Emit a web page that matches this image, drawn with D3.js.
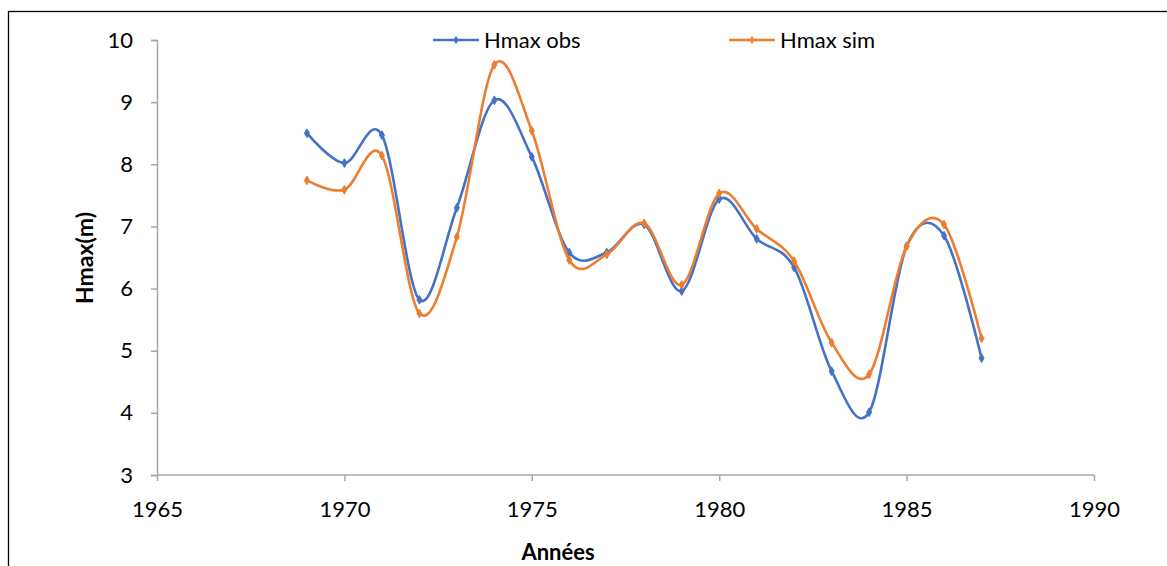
<!DOCTYPE html>
<html>
<head>
<meta charset="utf-8">
<script src="https://cdn.jsdelivr.net/npm/d3@7"></script>
<style>
  body { margin: 0; background: #fff; }
  svg { display: block; font-family: Lato, "Open Sans", sans-serif; }
</style>
</head>
<body>
<svg id="chart" width="1167" height="566"></svg>
<script>
// data
var years = [1969, 1970, 1971, 1972, 1973, 1974, 1975, 1976, 1977, 1978,
             1979, 1980, 1981, 1982, 1983, 1984, 1985, 1986, 1987]
var hmaxObs = [8.50, 8.02, 8.47, 5.82, 7.30, 9.03, 8.12, 6.58, 6.58, 7.03,
               5.96, 7.44, 6.80, 6.34, 4.67, 4.01, 6.68, 6.85, 4.88]
var hmaxSim = [7.74, 7.59, 8.14, 5.60, 6.83, 9.60, 8.54, 6.46, 6.55, 7.05,
               6.06, 7.53, 6.96, 6.44, 5.13, 4.62, 6.68, 7.03, 5.20]
var xTicks = [1965, 1970, 1975, 1980, 1985, 1990]
var yTicks = [3, 4, 5, 6, 7, 8, 9, 10]
var seriesNames = ["Hmax obs", "Hmax sim"]
var seriesColors = ["#4472C4", "#ED7D31"]

var dimensions = {
  width: 1167,
  height: 566,
  margin: { top: 40, bottom: 91, left: 157, right: 73 }
}
dimensions.boundedWidth = dimensions.width - dimensions.margin.left - dimensions.margin.right
dimensions.boundedHeight = dimensions.height - dimensions.margin.top - dimensions.margin.bottom

var svg = d3.select("#chart")

// outer frame of the chart area
svg.append("rect")
  .attr("x", 8.5).attr("y", 11.5)
  .attr("width", 1200).attr("height", 600)
  .attr("fill", "none").attr("stroke", "#000").attr("stroke-width", 1.3)

var bounds = svg.append("g")
  .attr("transform", "translate(" + dimensions.margin.left + "," + dimensions.margin.top + ")")

var xScale = d3.scaleLinear()
  .domain([1965, 1990])
  .range([0, dimensions.boundedWidth])

var yScale = d3.scaleLinear()
  .domain([3, 10])
  .range([dimensions.boundedHeight, 0])

// axes
var yAxis = bounds.append("g")
  .call(d3.axisLeft(yScale).tickValues(yTicks).tickSize(6).tickPadding(18).tickFormat(d3.format("d")))
var xAxis = bounds.append("g")
  .attr("transform", "translate(0," + dimensions.boundedHeight + ")")
  .call(d3.axisBottom(xScale).tickValues(xTicks).tickSize(6).tickPadding(20).tickFormat(d3.format("d")))

;[xAxis, yAxis].forEach(function (ax) {
  ax.select(".domain").attr("stroke", "#A6A6A6").attr("stroke-width", 1.5)
  ax.selectAll(".tick line").attr("stroke", "#A6A6A6").attr("stroke-width", 1.5)
  ax.selectAll(".tick text").attr("fill", "#000").style("font-size", "22px")
    .style("font-family", "Lato, 'Open Sans', sans-serif")
})
xAxis.selectAll(".domain").attr("d", "M0,0H" + dimensions.boundedWidth)

// smoothed lines (uniform catmull-rom, like excel's smooth line)
var allSeries = [hmaxObs, hmaxSim]
var line = d3.line()
  .x(function (d, i) { return xScale(years[i]) })
  .y(function (d) { return yScale(d) })
  .curve(d3.curveCardinal.tension(0))

var diamond = d3.symbol().type(d3.symbolDiamond).size(22)

allSeries.forEach(function (values, s) {
  bounds.append("path")
    .datum(values)
    .attr("d", line)
    .attr("fill", "none")
    .attr("stroke", seriesColors[s])
    .attr("stroke-width", 2.6)

  bounds.selectAll(".pt" + s)
    .data(values)
    .enter()
    .append("path")
    .attr("d", diamond)
    .attr("transform", function (d, i) { return "translate(" + xScale(years[i]) + "," + yScale(d) + ")" })
    .attr("fill", seriesColors[s])
    .attr("stroke", seriesColors[s])
})

// legend
var legendX = [433, 729]
seriesNames.forEach(function (name, s) {
  var lg = svg.append("g").attr("transform", "translate(" + legendX[s] + ",40)")
  lg.append("line")
    .attr("x1", 0).attr("x2", 46)
    .attr("stroke", seriesColors[s]).attr("stroke-width", 2.6)
  lg.append("path")
    .attr("d", diamond)
    .attr("transform", "translate(23,0)")
    .attr("fill", seriesColors[s])
  lg.append("text")
    .attr("x", 51).attr("y", 8)
    .style("font-size", "22px")
    .text(name)
})

// axis titles
svg.append("text")
  .attr("transform", "translate(93,258) rotate(-90)")
  .attr("text-anchor", "middle")
  .style("font-size", "23px")
  .style("font-weight", "bold")
  .text("Hmax(m)")

svg.append("text")
  .attr("x", 558).attr("y", 560)
  .attr("text-anchor", "middle")
  .style("font-size", "22px")
  .style("font-weight", "bold")
  .text("Années")
</script>
</body>
</html>
